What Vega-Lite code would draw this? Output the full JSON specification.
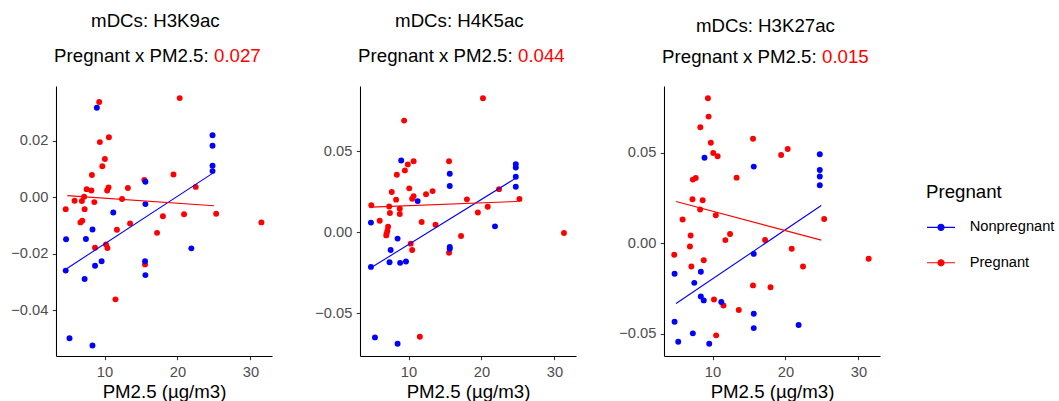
{
"$schema":"https://vega.github.io/schema/vega-lite/v6.json",
"padding":{"left":10,"top":12,"right":0,"bottom":0},
"datasets":{
"pts":[
{"m":"H3K9ac","g":"Pregnant","x":9.27,"y":0.0338},{"m":"H3K9ac","g":"Pregnant","x":20.3,"y":0.0352},{"m":"H3K9ac","g":"Pregnant","x":9.36,"y":0.0196},{"m":"H3K9ac","g":"Pregnant","x":10.6,"y":0.0213},{"m":"H3K9ac","g":"Pregnant","x":10.05,"y":0.0136},{"m":"H3K9ac","g":"Pregnant","x":9.7,"y":0.011},{"m":"H3K9ac","g":"Pregnant","x":8.27,"y":0.0079},{"m":"H3K9ac","g":"Pregnant","x":19.45,"y":0.0081},{"m":"H3K9ac","g":"Pregnant","x":7.55,"y":0.0029},{"m":"H3K9ac","g":"Pregnant","x":8.2,"y":0.0024},{"m":"H3K9ac","g":"Pregnant","x":10.55,"y":0.0035},{"m":"H3K9ac","g":"Pregnant","x":10.36,"y":0.0024},{"m":"H3K9ac","g":"Pregnant","x":13.2,"y":0.0033},{"m":"H3K9ac","g":"Pregnant","x":15.45,"y":0.0062},{"m":"H3K9ac","g":"Pregnant","x":22.5,"y":0.0037},{"m":"H3K9ac","g":"Pregnant","x":7.2,"y":0.0002},{"m":"H3K9ac","g":"Pregnant","x":6.9,"y":-0.0013},{"m":"H3K9ac","g":"Pregnant","x":5.9,"y":-0.0012},{"m":"H3K9ac","g":"Pregnant","x":12.4,"y":-0.0006},{"m":"H3K9ac","g":"Pregnant","x":8.6,"y":-0.0017},{"m":"H3K9ac","g":"Pregnant","x":4.68,"y":-0.0042},{"m":"H3K9ac","g":"Pregnant","x":7.27,"y":-0.0042},{"m":"H3K9ac","g":"Pregnant","x":25.3,"y":-0.0058},{"m":"H3K9ac","g":"Pregnant","x":20.9,"y":-0.006},{"m":"H3K9ac","g":"Pregnant","x":18.0,"y":-0.0067},{"m":"H3K9ac","g":"Pregnant","x":6.95,"y":-0.0083},{"m":"H3K9ac","g":"Pregnant","x":6.7,"y":-0.0089},{"m":"H3K9ac","g":"Pregnant","x":31.5,"y":-0.0089},{"m":"H3K9ac","g":"Pregnant","x":13.5,"y":-0.0093},{"m":"H3K9ac","g":"Pregnant","x":11.7,"y":-0.0115},{"m":"H3K9ac","g":"Pregnant","x":17.2,"y":-0.0126},{"m":"H3K9ac","g":"Pregnant","x":10.2,"y":-0.0167},{"m":"H3K9ac","g":"Pregnant","x":10.4,"y":-0.018},{"m":"H3K9ac","g":"Pregnant","x":8.7,"y":-0.0179},{"m":"H3K9ac","g":"Pregnant","x":15.55,"y":-0.0238},{"m":"H3K9ac","g":"Pregnant","x":11.5,"y":-0.0362},
{"m":"H3K9ac","g":"Nonpregnant","x":8.95,"y":0.0318},{"m":"H3K9ac","g":"Nonpregnant","x":24.8,"y":0.022},{"m":"H3K9ac","g":"Nonpregnant","x":24.8,"y":0.0183},{"m":"H3K9ac","g":"Nonpregnant","x":24.8,"y":0.0112},{"m":"H3K9ac","g":"Nonpregnant","x":24.8,"y":0.0093},{"m":"H3K9ac","g":"Nonpregnant","x":15.6,"y":0.0055},{"m":"H3K9ac","g":"Nonpregnant","x":15.6,"y":-0.0024},{"m":"H3K9ac","g":"Nonpregnant","x":11.2,"y":-0.0054},{"m":"H3K9ac","g":"Nonpregnant","x":8.35,"y":-0.0114},{"m":"H3K9ac","g":"Nonpregnant","x":4.73,"y":-0.0149},{"m":"H3K9ac","g":"Nonpregnant","x":7.45,"y":-0.0148},{"m":"H3K9ac","g":"Nonpregnant","x":21.9,"y":-0.0181},{"m":"H3K9ac","g":"Nonpregnant","x":15.55,"y":-0.0227},{"m":"H3K9ac","g":"Nonpregnant","x":9.6,"y":-0.0227},{"m":"H3K9ac","g":"Nonpregnant","x":8.7,"y":-0.0243},{"m":"H3K9ac","g":"Nonpregnant","x":4.68,"y":-0.026},{"m":"H3K9ac","g":"Nonpregnant","x":15.6,"y":-0.0276},{"m":"H3K9ac","g":"Nonpregnant","x":7.27,"y":-0.029},{"m":"H3K9ac","g":"Nonpregnant","x":5.2,"y":-0.05},{"m":"H3K9ac","g":"Nonpregnant","x":8.35,"y":-0.0526},
{"m":"H4K5ac","g":"Pregnant","x":20.2,"y":0.0829},{"m":"H4K5ac","g":"Pregnant","x":9.4,"y":0.0691},{"m":"H4K5ac","g":"Pregnant","x":15.55,"y":0.044},{"m":"H4K5ac","g":"Pregnant","x":10.7,"y":0.044},{"m":"H4K5ac","g":"Pregnant","x":9.9,"y":0.042},{"m":"H4K5ac","g":"Pregnant","x":9.5,"y":0.0383},{"m":"H4K5ac","g":"Pregnant","x":8.4,"y":0.0356},{"m":"H4K5ac","g":"Pregnant","x":10.1,"y":0.0272},{"m":"H4K5ac","g":"Pregnant","x":7.7,"y":0.0249},{"m":"H4K5ac","g":"Pregnant","x":13.3,"y":0.0255},{"m":"H4K5ac","g":"Pregnant","x":12.4,"y":0.0235},{"m":"H4K5ac","g":"Pregnant","x":22.4,"y":0.0267},{"m":"H4K5ac","g":"Pregnant","x":10.7,"y":0.0224},{"m":"H4K5ac","g":"Pregnant","x":10.5,"y":0.0208},{"m":"H4K5ac","g":"Pregnant","x":8.3,"y":0.0202},{"m":"H4K5ac","g":"Pregnant","x":18.0,"y":0.0204},{"m":"H4K5ac","g":"Pregnant","x":25.2,"y":0.0206},{"m":"H4K5ac","g":"Pregnant","x":4.9,"y":0.0167},{"m":"H4K5ac","g":"Pregnant","x":7.35,"y":0.016},{"m":"H4K5ac","g":"Pregnant","x":8.8,"y":0.0146},{"m":"H4K5ac","g":"Pregnant","x":20.85,"y":0.0158},{"m":"H4K5ac","g":"Pregnant","x":19.5,"y":0.0123},{"m":"H4K5ac","g":"Pregnant","x":7.45,"y":0.0119},{"m":"H4K5ac","g":"Pregnant","x":8.8,"y":0.0113},{"m":"H4K5ac","g":"Pregnant","x":6.05,"y":0.0072},{"m":"H4K5ac","g":"Pregnant","x":11.8,"y":0.0064},{"m":"H4K5ac","g":"Pregnant","x":13.7,"y":0.0047},{"m":"H4K5ac","g":"Pregnant","x":7.2,"y":0.0035},{"m":"H4K5ac","g":"Pregnant","x":7.1,"y":0.001},{"m":"H4K5ac","g":"Pregnant","x":7.0,"y":-0.0008},{"m":"H4K5ac","g":"Pregnant","x":6.95,"y":-0.0019},{"m":"H4K5ac","g":"Pregnant","x":17.2,"y":-0.0023},{"m":"H4K5ac","g":"Pregnant","x":31.3,"y":-0.0004},{"m":"H4K5ac","g":"Pregnant","x":10.3,"y":-0.007},{"m":"H4K5ac","g":"Pregnant","x":10.5,"y":-0.0109},{"m":"H4K5ac","g":"Pregnant","x":15.55,"y":-0.0126},{"m":"H4K5ac","g":"Pregnant","x":11.55,"y":-0.0646},
{"m":"H4K5ac","g":"Nonpregnant","x":9.0,"y":0.0444},{"m":"H4K5ac","g":"Nonpregnant","x":24.7,"y":0.0422},{"m":"H4K5ac","g":"Nonpregnant","x":24.7,"y":0.0401},{"m":"H4K5ac","g":"Nonpregnant","x":24.7,"y":0.0344},{"m":"H4K5ac","g":"Nonpregnant","x":24.7,"y":0.0282},{"m":"H4K5ac","g":"Nonpregnant","x":15.65,"y":0.0362},{"m":"H4K5ac","g":"Nonpregnant","x":15.65,"y":0.0286},{"m":"H4K5ac","g":"Nonpregnant","x":11.25,"y":0.0193},{"m":"H4K5ac","g":"Nonpregnant","x":4.85,"y":0.006},{"m":"H4K5ac","g":"Nonpregnant","x":21.85,"y":0.0037},{"m":"H4K5ac","g":"Nonpregnant","x":8.5,"y":-0.0039},{"m":"H4K5ac","g":"Nonpregnant","x":15.65,"y":-0.0091},{"m":"H4K5ac","g":"Nonpregnant","x":15.65,"y":-0.0101},{"m":"H4K5ac","g":"Nonpregnant","x":7.55,"y":-0.0109},{"m":"H4K5ac","g":"Nonpregnant","x":7.4,"y":-0.0185},{"m":"H4K5ac","g":"Nonpregnant","x":9.65,"y":-0.0181},{"m":"H4K5ac","g":"Nonpregnant","x":8.85,"y":-0.0189},{"m":"H4K5ac","g":"Nonpregnant","x":4.85,"y":-0.0214},{"m":"H4K5ac","g":"Nonpregnant","x":5.4,"y":-0.065},{"m":"H4K5ac","g":"Nonpregnant","x":8.5,"y":-0.0689},
{"m":"H3K27ac","g":"Pregnant","x":9.37,"y":0.08},{"m":"H3K27ac","g":"Pregnant","x":9.46,"y":0.0699},{"m":"H3K27ac","g":"Pregnant","x":8.33,"y":0.064},{"m":"H3K27ac","g":"Pregnant","x":9.77,"y":0.0555},{"m":"H3K27ac","g":"Pregnant","x":15.55,"y":0.0577},{"m":"H3K27ac","g":"Pregnant","x":20.3,"y":0.052},{"m":"H3K27ac","g":"Pregnant","x":19.4,"y":0.0487},{"m":"H3K27ac","g":"Pregnant","x":10.1,"y":0.0498},{"m":"H3K27ac","g":"Pregnant","x":10.7,"y":0.048},{"m":"H3K27ac","g":"Pregnant","x":13.3,"y":0.0362},{"m":"H3K27ac","g":"Pregnant","x":7.3,"y":0.0351},{"m":"H3K27ac","g":"Pregnant","x":7.7,"y":0.036},{"m":"H3K27ac","g":"Pregnant","x":7.25,"y":0.0243},{"m":"H3K27ac","g":"Pregnant","x":8.65,"y":0.0237},{"m":"H3K27ac","g":"Pregnant","x":8.3,"y":0.0186},{"m":"H3K27ac","g":"Pregnant","x":10.45,"y":0.0154},{"m":"H3K27ac","g":"Pregnant","x":5.9,"y":0.0131},{"m":"H3K27ac","g":"Pregnant","x":25.3,"y":0.0134},{"m":"H3K27ac","g":"Pregnant","x":12.4,"y":0.0051},{"m":"H3K27ac","g":"Pregnant","x":7.0,"y":0.0042},{"m":"H3K27ac","g":"Pregnant","x":11.76,"y":0.0017},{"m":"H3K27ac","g":"Pregnant","x":17.2,"y":0.0018},{"m":"H3K27ac","g":"Pregnant","x":6.9,"y":-0.0018},{"m":"H3K27ac","g":"Pregnant","x":20.85,"y":-0.0031},{"m":"H3K27ac","g":"Pregnant","x":4.75,"y":-0.0064},{"m":"H3K27ac","g":"Pregnant","x":8.8,"y":-0.0094},{"m":"H3K27ac","g":"Pregnant","x":31.4,"y":-0.0086},{"m":"H3K27ac","g":"Pregnant","x":7.1,"y":-0.0129},{"m":"H3K27ac","g":"Pregnant","x":22.4,"y":-0.0129},{"m":"H3K27ac","g":"Pregnant","x":15.55,"y":-0.0233},{"m":"H3K27ac","g":"Pregnant","x":17.95,"y":-0.0243},{"m":"H3K27ac","g":"Pregnant","x":10.2,"y":-0.0311},{"m":"H3K27ac","g":"Pregnant","x":11.5,"y":-0.0344},{"m":"H3K27ac","g":"Pregnant","x":13.6,"y":-0.0369},{"m":"H3K27ac","g":"Pregnant","x":10.5,"y":-0.0509},
{"m":"H3K27ac","g":"Nonpregnant","x":8.9,"y":0.0472},{"m":"H3K27ac","g":"Nonpregnant","x":24.7,"y":0.0491},{"m":"H3K27ac","g":"Nonpregnant","x":24.7,"y":0.0404},{"m":"H3K27ac","g":"Nonpregnant","x":24.7,"y":0.0368},{"m":"H3K27ac","g":"Nonpregnant","x":24.7,"y":0.032},{"m":"H3K27ac","g":"Nonpregnant","x":15.65,"y":0.0423},{"m":"H3K27ac","g":"Nonpregnant","x":15.65,"y":-0.0059},{"m":"H3K27ac","g":"Nonpregnant","x":4.8,"y":-0.0169},{"m":"H3K27ac","g":"Nonpregnant","x":8.4,"y":-0.0158},{"m":"H3K27ac","g":"Nonpregnant","x":7.5,"y":-0.0219},{"m":"H3K27ac","g":"Nonpregnant","x":8.4,"y":-0.0294},{"m":"H3K27ac","g":"Nonpregnant","x":8.8,"y":-0.0316},{"m":"H3K27ac","g":"Nonpregnant","x":11.2,"y":-0.0325},{"m":"H3K27ac","g":"Nonpregnant","x":15.65,"y":-0.039},{"m":"H3K27ac","g":"Nonpregnant","x":21.8,"y":-0.0452},{"m":"H3K27ac","g":"Nonpregnant","x":4.8,"y":-0.0434},{"m":"H3K27ac","g":"Nonpregnant","x":7.3,"y":-0.0498},{"m":"H3K27ac","g":"Nonpregnant","x":15.65,"y":-0.0469},{"m":"H3K27ac","g":"Nonpregnant","x":5.3,"y":-0.0544},{"m":"H3K27ac","g":"Nonpregnant","x":9.55,"y":-0.0555}
],
"fit":[
{"m":"H3K9ac","g":"Nonpregnant","x":4.7,"y":-0.0255},{"m":"H3K9ac","g":"Nonpregnant","x":24.8,"y":0.0085},
{"m":"H3K9ac","g":"Pregnant","x":4.9,"y":0.0006},{"m":"H3K9ac","g":"Pregnant","x":25.0,"y":-0.003},
{"m":"H4K5ac","g":"Nonpregnant","x":4.9,"y":-0.0218},{"m":"H4K5ac","g":"Nonpregnant","x":24.7,"y":0.0335},
{"m":"H4K5ac","g":"Pregnant","x":4.9,"y":0.0156},{"m":"H4K5ac","g":"Pregnant","x":24.9,"y":0.0191},
{"m":"H3K27ac","g":"Nonpregnant","x":5.0,"y":-0.0333},{"m":"H3K27ac","g":"Nonpregnant","x":24.9,"y":0.0208},
{"m":"H3K27ac","g":"Pregnant","x":5.0,"y":0.023},{"m":"H3K27ac","g":"Pregnant","x":24.9,"y":0.0017}
]
},
"spacing":42,
"hconcat":[
{"title":{"text":"mDCs: H3K9ac","anchor":"middle","frame":"bounds","dx":14,"offset":16.3},
 "vconcat":[{
 "title":{"text":"0.027","color":"#FF0000","anchor":"middle","frame":"bounds","dx":96,"offset":-18.7},
 "vconcat":[{"width":216,"height":270,
  "title":{"text":"Pregnant x PM2.5:","anchor":"middle","frame":"bounds","dx":-10,"offset":20},
  "layer":[
   {"data":{"name":"pts"},"transform":[{"filter":"datum.m === 'H3K9ac'"}],
    "mark":{"type":"circle","size":35,"opacity":1},
    "encoding":{
     "x":{"field":"x","type":"quantitative","scale":{"domain":[3.35,32.95],"nice":false,"zero":false},"axis":{"values":[10,20,30],"title":"PM2.5 (µg/m3)"}},
     "y":{"field":"y","type":"quantitative","scale":{"domain":[-0.0563,0.0395],"nice":false,"zero":false},"axis":{"values":[-0.04,-0.02,0,0.02],"format":".2f","title":null}},
     "color":{"field":"g","type":"nominal","title":"Pregnant","scale":{"domain":["Nonpregnant","Pregnant"],"range":["#0000FF","#FF0000"]},
      "legend":{"orient":"none","legendX":870,"legendY":97,"symbolType":"M-1,0H1M0.22,0A0.22,0.22,0,1,1,-0.22,0A0.22,0.22,0,1,1,0.22,0Z","symbolSize":784,"symbolStrokeWidth":1.1,
       "encode":{"symbols":{"update":{"fill":{"scale":"color","field":"value"},"stroke":{"scale":"color","field":"value"},"opacity":{"value":1}}}}}}
    }},
   {"data":{"name":"fit"},"transform":[{"filter":"datum.m === 'H3K9ac'"}],
    "mark":{"type":"line","strokeWidth":1.1},
    "encoding":{
     "x":{"field":"x","type":"quantitative"},
     "y":{"field":"y","type":"quantitative"},
     "color":{"field":"g","type":"nominal"}
    }}
  ]}]}]},
{"title":{"text":"mDCs: H4K5ac","anchor":"middle","frame":"bounds","dx":14,"offset":16.3},
 "vconcat":[{
 "title":{"text":"0.044","color":"#FF0000","anchor":"middle","frame":"bounds","dx":96,"offset":-18.7},
 "vconcat":[{"width":216,"height":270,
  "title":{"text":"Pregnant x PM2.5:","anchor":"middle","frame":"bounds","dx":-10,"offset":20},
  "layer":[
   {"data":{"name":"pts"},"transform":[{"filter":"datum.m === 'H4K5ac'"}],
    "mark":{"type":"circle","size":35,"opacity":1},
    "encoding":{
     "x":{"field":"x","type":"quantitative","scale":{"domain":[3.35,32.95],"nice":false,"zero":false},"axis":{"values":[10,20,30],"title":"PM2.5 (µg/m3)"}},
     "y":{"field":"y","type":"quantitative","scale":{"domain":[-0.0765,0.0905],"nice":false,"zero":false},"axis":{"values":[-0.05,0,0.05],"format":".2f","title":null}},
     "color":{"field":"g","type":"nominal","title":"Pregnant"}
    }},
   {"data":{"name":"fit"},"transform":[{"filter":"datum.m === 'H4K5ac'"}],
    "mark":{"type":"line","strokeWidth":1.1},
    "encoding":{
     "x":{"field":"x","type":"quantitative"},
     "y":{"field":"y","type":"quantitative"},
     "color":{"field":"g","type":"nominal"}
    }}
  ]}]}]},
{"title":{"text":"mDCs: H3K27ac","anchor":"middle","frame":"bounds","dx":16,"offset":13},
 "vconcat":[{
 "title":{"text":"0.015","color":"#FF0000","anchor":"middle","frame":"bounds","dx":96,"offset":-18.7},
 "vconcat":[{"width":216,"height":270,
  "title":{"text":"Pregnant x PM2.5:","anchor":"middle","frame":"bounds","dx":-10,"offset":19},
  "layer":[
   {"data":{"name":"pts"},"transform":[{"filter":"datum.m === 'H3K27ac'"}],
    "mark":{"type":"circle","size":35,"opacity":1},
    "encoding":{
     "x":{"field":"x","type":"quantitative","scale":{"domain":[3.35,32.95],"nice":false,"zero":false},"axis":{"values":[10,20,30],"title":"PM2.5 (µg/m3)"}},
     "y":{"field":"y","type":"quantitative","scale":{"domain":[-0.0623,0.0868],"nice":false,"zero":false},"axis":{"values":[-0.05,0,0.05],"format":".2f","title":null}},
     "color":{"field":"g","type":"nominal","title":"Pregnant"}
    }},
   {"data":{"name":"fit"},"transform":[{"filter":"datum.m === 'H3K27ac'"}],
    "mark":{"type":"line","strokeWidth":1.1},
    "encoding":{
     "x":{"field":"x","type":"quantitative"},
     "y":{"field":"y","type":"quantitative"},
     "color":{"field":"g","type":"nominal"}
    }}
  ]}]}]}
],
"config":{
 "font":"Liberation Sans",
 "view":{"stroke":null},
 "title":{"font":"Liberation Sans","fontSize":18.67,"fontWeight":"normal","color":"#000000"},
 "axis":{"grid":false,"domainColor":"#000000","domainWidth":1.07,"tickColor":"#333333","tickWidth":1.07,"tickSize":3.67,"labelFont":"Liberation Sans","labelFontSize":14.67,"labelColor":"#4D4D4D","labelPadding":4.5,"titleFont":"Liberation Sans","titleFontSize":18.67,"titleFontWeight":"normal","titleColor":"#000000","titlePadding":3.2},
 "legend":{"titleFont":"Liberation Sans","titleFontSize":18.67,"titleFontWeight":"normal","titleColor":"#000000","labelFont":"Liberation Sans","labelFontSize":14.67,"labelColor":"#000000","titlePadding":10.7,"rowPadding":13.4,"symbolOffset":0,"labelOffset":13.7}
}
}
